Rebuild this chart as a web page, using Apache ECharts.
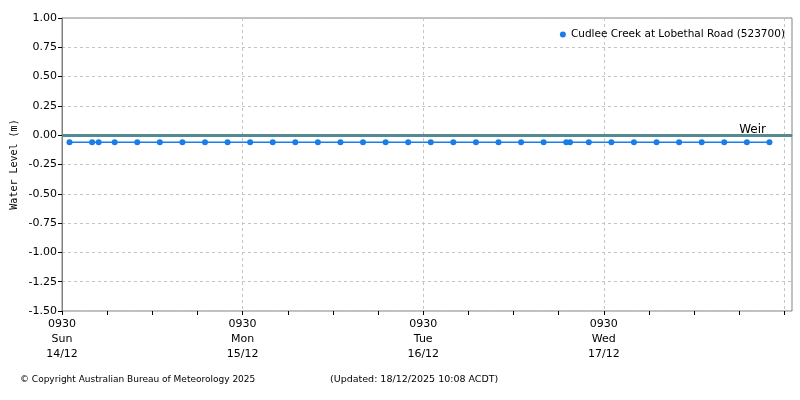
<!DOCTYPE html>
<html><head><meta charset="utf-8">
<script src="https://cdn.jsdelivr.net/npm/echarts@6/dist/echarts.min.js"></script>
<style>html,body{margin:0;padding:0;background:#fff}#c{width:800px;height:400px}</style>
</head><body><div id="c"></div>
<script>
const startTime = '2025-12-14 09:30';
const endTime = '2025-12-18 10:30';
const seriesName = 'Cudlee Creek at Lobethal Road (523700)';
const times = [
  '2025-12-14 10:30','2025-12-14 13:30','2025-12-14 14:22','2025-12-14 16:30','2025-12-14 19:30','2025-12-14 22:30',
  '2025-12-15 01:30','2025-12-15 04:30','2025-12-15 07:30','2025-12-15 10:30','2025-12-15 13:30','2025-12-15 16:30','2025-12-15 19:30','2025-12-15 22:30',
  '2025-12-16 01:30','2025-12-16 04:30','2025-12-16 07:30','2025-12-16 10:30','2025-12-16 13:30','2025-12-16 16:30','2025-12-16 19:30','2025-12-16 22:30',
  '2025-12-17 01:30','2025-12-17 04:30','2025-12-17 05:00','2025-12-17 07:30','2025-12-17 10:30','2025-12-17 13:30','2025-12-17 16:30','2025-12-17 19:30','2025-12-17 22:30',
  '2025-12-18 01:30','2025-12-18 04:30','2025-12-18 07:30'
];
const levels = [
  -0.06,-0.06,-0.06,-0.06,-0.06,-0.06,
  -0.06,-0.06,-0.06,-0.06,-0.06,-0.06,-0.06,-0.06,
  -0.06,-0.06,-0.06,-0.06,-0.06,-0.06,-0.06,-0.06,
  -0.06,-0.06,-0.06,-0.06,-0.06,-0.06,-0.06,-0.06,-0.06,
  -0.06,-0.06,-0.06
];
const weirLevel = 0;
const weirLabel = 'Weir';
const dayLabels = ['0930\nSun\n14/12','0930\nMon\n15/12','0930\nTue\n16/12','0930\nWed\n17/12'];
const tickHours = [0,6,12,18,24,30,36,42,48,54,60,66,72,78,84,90,96];
const yMin = -1.5, yMax = 1.0, yStep = 0.25;
const yAxisName = 'Water Level (m)';
const footerLeft = '\u00A9 Copyright Australian Bureau of Meteorology 2025';
const footerRight = '(Updated: 18/12/2025 10:08 ACDT)';

function parseT(s){
  const [d,t] = s.split(' ');
  const [y,m,dd] = d.split('-').map(Number);
  const [h,mi] = t.split(':').map(Number);
  return new Date(y,m-1,dd,h,mi).getTime();
}
const t0 = parseT(startTime);
const hoursFromStart = s => (parseT(s) - t0) / 3600000;
const xMax = hoursFromStart(endTime);
const points = times.map((t,i) => [hoursFromStart(t), levels[i]]);

const FONT = 'DejaVu Sans';
const chart = echarts.init(document.getElementById('c'));
chart.setOption({
  animation: false,
  backgroundColor: '#fff',
  grid: { left: 62, right: 8, top: 18, bottom: 89, show: true, borderColor: '#808080', borderWidth: 1 },
  legend: {
    right: 10, top: 24, icon: 'circle', itemWidth: 6, itemHeight: 6, itemGap: 5,
    textStyle: { fontFamily: FONT, fontSize: 10.5, color: '#000' },
    data: [seriesName]
  },
  xAxis: [{
    type: 'value', min: 0, max: xMax, interval: 24,
    axisLine: { show: true, lineStyle: { color: '#808080' } },
    axisTick: { show: false },
    axisLabel: {
      margin: 6, fontFamily: FONT, fontSize: 11, color: '#000', lineHeight: 15,
      formatter: v => (v % 24 === 0 && v / 24 < dayLabels.length) ? dayLabels[v / 24] : ''
    },
    splitLine: { show: true, lineStyle: { color: '#c4c4c4', type: [3, 3], width: 1 } }
  }, {
    type: 'value', min: 0, max: xMax, interval: 6, position: 'bottom',
    axisLine: { show: false },
    axisTick: { show: true, length: 4, customValues: tickHours, lineStyle: { color: '#000' } },
    axisLabel: { show: false },
    splitLine: { show: false }
  }],
  yAxis: {
    type: 'value', min: yMin, max: yMax, interval: yStep,
    name: yAxisName, nameLocation: 'middle', nameGap: 43, nameMoveOverlap: false,
    nameTextStyle: { fontFamily: 'DejaVu Sans Mono', fontSize: 10, color: '#000' },
    axisLine: { show: true, lineStyle: { color: '#808080' } },
    axisTick: { show: true, length: 4, lineStyle: { color: '#000' } },
    axisLabel: { margin: 5, fontFamily: FONT, fontSize: 11, color: '#000', formatter: v => v.toFixed(2) },
    splitLine: { show: true, lineStyle: { color: '#c4c4c4', type: [3, 3], width: 1 } }
  },
  series: [{
    name: seriesName, type: 'line', xAxisIndex: 0, data: points,
    color: '#1a7ee8', symbol: 'circle', symbolSize: 6, showSymbol: true,
    lineStyle: { width: 1.5, color: '#1a7ee8' },
    itemStyle: { color: '#1a7ee8' },
    markLine: {
      silent: true, symbol: 'none', animation: false,
      lineStyle: { color: '#568a92', width: 3, type: 'solid' },
      label: { show: true, formatter: weirLabel, position: 'insideEndTop', distance: [26, -1], color: '#000', fontFamily: FONT, fontSize: 12 },
      data: [{ yAxis: weirLevel }]
    }
  }],
  graphic: [
    { type: 'text', left: 20, top: 375, style: { text: footerLeft, fontFamily: FONT, fontSize: 9, fill: '#000' } },
    { type: 'text', left: 330, top: 375, style: { text: footerRight, fontFamily: FONT, fontSize: 9.5, fill: '#000' } }
  ]
});
</script></body></html>
